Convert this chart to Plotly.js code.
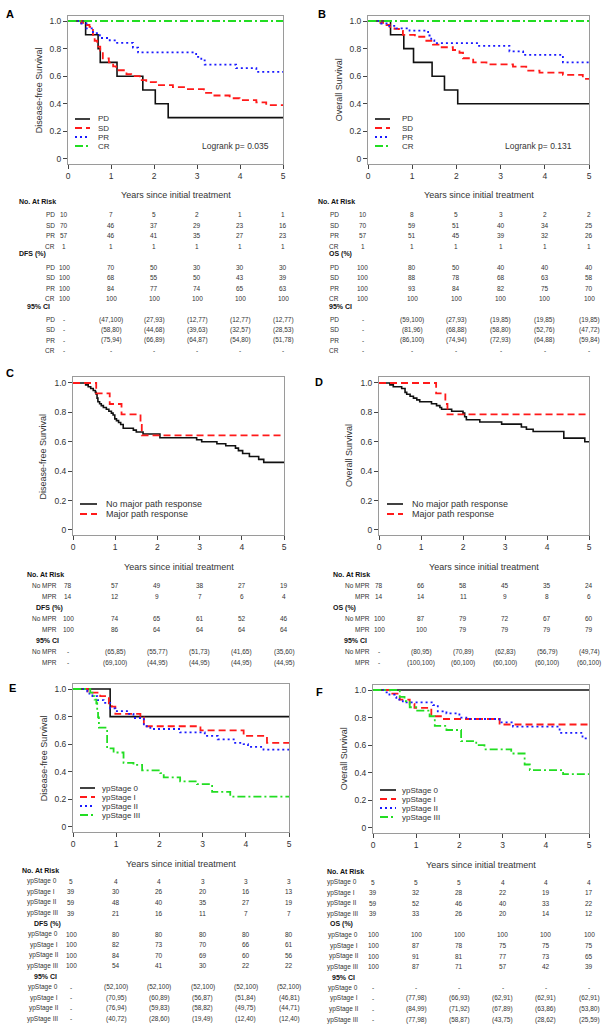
<!DOCTYPE html>
<html><head><meta charset="utf-8">
<script src="https://cdn.plot.ly/plotly-3.0.1.min.js"></script>
<style>html,body{margin:0;padding:0;background:#fff}#chart{width:605px;height:1035px}</style>
</head><body><div id="chart"></div>
<script>
// ---------------- DATA ----------------
const years = [0, 1, 2, 3, 4, 5];
const yTickVals = [0, 0.2, 0.4, 0.6, 0.8, 1.0];
const yTickText = ['0', '0.2', '0.4', '0.6', '0.8', '1.0'];

// Panel A: Disease-free survival by radiologic response
const A_PD_t = [0, 0.41, 0.70, 0.75, 1.14, 1.74, 2.03, 2.33, 5];
const A_PD_s = [1, 0.9, 0.8, 0.7, 0.6, 0.5, 0.4, 0.3, 0.3];
const A_SD_t = [0, 0.30, 0.40, 0.50, 0.58, 0.62, 0.68, 0.75, 0.81, 0.95, 1.05, 1.12, 1.36, 1.47, 1.67, 1.82, 2.05, 2.44, 2.75, 3.16, 3.37, 3.76, 3.99, 4.38, 4.61, 5];
const A_SD_s = [1, 0.986, 0.971, 0.957, 0.900, 0.857, 0.814, 0.786, 0.729, 0.700, 0.671, 0.643, 0.614, 0.600, 0.571, 0.557, 0.536, 0.521, 0.507, 0.479, 0.460, 0.440, 0.427, 0.410, 0.390, 0.390];
const A_PR_t = [0, 0.31, 0.43, 0.58, 0.74, 0.97, 1.12, 1.51, 1.63, 2.98, 3.10, 3.18, 3.91, 4.38, 5];
const A_PR_s = [1, 0.982, 0.947, 0.912, 0.877, 0.860, 0.842, 0.807, 0.772, 0.740, 0.715, 0.684, 0.658, 0.632, 0.632];
const A_CR_t = [0, 5];
const A_CR_s = [1, 1];

// Panel B: Overall survival by radiologic response
const B_PD_t = [0, 0.51, 0.81, 1.03, 1.45, 1.73, 2.03, 5];
const B_PD_s = [1, 0.9, 0.8, 0.7, 0.6, 0.5, 0.4, 0.4];
const B_SD_t = [0, 0.28, 0.42, 0.49, 0.60, 0.70, 0.79, 1.06, 1.32, 1.47, 1.62, 1.92, 2.07, 2.15, 2.38, 2.68, 3.28, 3.58, 3.88, 4.41, 4.86, 5];
const B_SD_s = [1, 0.986, 0.971, 0.957, 0.943, 0.929, 0.900, 0.886, 0.857, 0.829, 0.810, 0.790, 0.770, 0.730, 0.700, 0.685, 0.670, 0.640, 0.626, 0.610, 0.580, 0.580];
const B_PR_t = [0, 0.30, 0.45, 0.64, 0.94, 1.36, 1.43, 1.50, 2.49, 3.20, 3.51, 4.41, 5];
const B_PR_s = [1, 0.982, 0.965, 0.947, 0.930, 0.895, 0.860, 0.840, 0.820, 0.780, 0.755, 0.700, 0.700];
const B_CR_t = [0, 5];
const B_CR_s = [1, 1];

// Panel C: DFS by major pathologic response
const C_NO_t = [0, 0.30, 0.36, 0.42, 0.48, 0.53, 0.55, 0.57, 0.59, 0.63, 0.67, 0.72, 0.79, 0.85, 0.91, 0.95, 0.99, 1.03, 1.08, 1.13, 1.19, 1.43, 1.50, 1.66, 2.06, 2.93, 3.05, 3.41, 3.62, 3.85, 3.92, 4.02, 4.18, 4.40, 4.52, 5];
const C_NO_s = [1, 0.987, 0.974, 0.962, 0.949, 0.936, 0.923, 0.897, 0.872, 0.859, 0.846, 0.833, 0.821, 0.808, 0.795, 0.782, 0.756, 0.744, 0.731, 0.718, 0.692, 0.679, 0.666, 0.653, 0.627, 0.614, 0.600, 0.587, 0.573, 0.557, 0.540, 0.520, 0.500, 0.480, 0.460, 0.460];
const C_MPR_t = [0, 0.55, 0.87, 1.15, 1.60, 1.63, 5];
const C_MPR_s = [1, 0.929, 0.857, 0.786, 0.714, 0.643, 0.643];

// Panel D: OS by major pathologic response
const D_NO_t = [0, 0.26, 0.34, 0.54, 0.62, 0.66, 0.74, 0.82, 0.90, 0.97, 1.25, 1.37, 1.45, 1.49, 1.73, 2.00, 2.04, 2.08, 2.40, 2.92, 3.39, 3.51, 3.67, 4.40, 4.90, 5];
const D_NO_s = [1, 0.987, 0.974, 0.962, 0.936, 0.923, 0.910, 0.897, 0.885, 0.872, 0.859, 0.846, 0.833, 0.821, 0.808, 0.795, 0.770, 0.750, 0.735, 0.720, 0.700, 0.685, 0.670, 0.625, 0.600, 0.600];
const D_MPR_t = [0, 1.36, 1.58, 1.63, 5];
const D_MPR_s = [1, 0.929, 0.857, 0.786, 0.786];

// Panel E: DFS by ypStage
const E_S0_t = [0, 0.86, 5];
const E_S0_s = [1, 0.8, 0.8];
const E_S1_t = [0, 0.34, 0.63, 0.83, 0.90, 0.98, 1.56, 1.64, 2.95, 3.95, 4.49, 5];
const E_S1_s = [1, 0.974, 0.949, 0.897, 0.872, 0.820, 0.794, 0.730, 0.700, 0.660, 0.610, 0.610];
const E_S2_t = [0, 0.33, 0.38, 0.45, 0.56, 0.71, 0.86, 0.98, 1.25, 1.40, 1.64, 1.79, 2.48, 3.05, 3.35, 3.72, 3.95, 4.05, 4.41, 5];
const E_S2_s = [1, 0.983, 0.966, 0.949, 0.920, 0.900, 0.860, 0.840, 0.820, 0.790, 0.730, 0.710, 0.685, 0.660, 0.635, 0.610, 0.600, 0.580, 0.560, 0.560];
const E_S3_t = [0, 0.40, 0.45, 0.50, 0.54, 0.56, 0.58, 0.60, 0.79, 0.94, 1.17, 1.40, 1.60, 2.02, 2.10, 2.48, 2.87, 3.22, 3.64, 5];
const E_S3_s = [1, 0.974, 0.949, 0.923, 0.897, 0.846, 0.795, 0.720, 0.570, 0.540, 0.465, 0.450, 0.410, 0.390, 0.360, 0.330, 0.310, 0.255, 0.220, 0.220];

// Panel F: OS by ypStage
const F_S0_t = [0, 5];
const F_S0_s = [1, 1];
const F_S1_t = [0, 0.39, 0.62, 0.85, 0.96, 1.35, 1.43, 1.62, 2.93, 5];
const F_S1_s = [1, 0.974, 0.930, 0.900, 0.870, 0.820, 0.810, 0.790, 0.750, 0.750];
const F_S2_t = [0, 0.27, 0.38, 0.50, 0.54, 0.69, 1.39, 1.50, 1.70, 2.00, 2.16, 2.93, 3.24, 4.32, 4.85, 5];
const F_S2_s = [1, 0.983, 0.966, 0.949, 0.930, 0.910, 0.890, 0.845, 0.830, 0.800, 0.790, 0.765, 0.735, 0.690, 0.650, 0.650];
const F_S3_t = [0, 0.62, 0.73, 0.85, 1.00, 1.31, 1.43, 1.70, 2.04, 2.39, 2.58, 3.20, 3.51, 3.63, 4.40, 5];
const F_S3_s = [1, 0.950, 0.920, 0.875, 0.850, 0.810, 0.740, 0.710, 0.630, 0.600, 0.570, 0.540, 0.460, 0.420, 0.390, 0.390];

// Table data
const A_groups = ['PD', 'SD', 'PR', 'CR'];
const A_atRisk = [[10,7,5,2,1,1],[70,46,37,29,23,16],[57,46,41,35,27,23],[1,1,1,1,1,1]];
const A_pct = [[100,70,50,30,30,30],[100,68,55,50,43,39],[100,84,77,74,65,63],[100,100,100,100,100,100]];
const A_ci = [['-','(47,100)','(27,93)','(12,77)','(12,77)','(12,77)'],['-','(58,80)','(44,68)','(39,63)','(32,57)','(28,53)'],['-','(75,94)','(66,89)','(64,87)','(54,80)','(51,78)'],['-','-','-','-','-','-']];

const B_groups = ['PD', 'SD', 'PR', 'CR'];
const B_atRisk = [[10,8,5,3,2,2],[70,59,51,40,34,25],[57,51,45,39,32,26],[1,1,1,1,1,1]];
const B_pct = [[100,80,50,40,40,40],[100,88,78,68,63,58],[100,93,84,82,75,70],[100,100,100,100,100,100]];
const B_ci = [['-','(59,100)','(27,93)','(19,85)','(19,85)','(19,85)'],['-','(81,96)','(68,88)','(58,80)','(52,76)','(47,72)'],['-','(86,100)','(74,94)','(72,93)','(64,88)','(59,84)'],['-','-','-','-','-','-']];

const C_groups = ['No MPR', 'MPR'];
const C_atRisk = [[78,57,49,38,27,19],[14,12,9,7,6,4]];
const C_pct = [[100,74,65,61,52,46],[100,86,64,64,64,64]];
const C_ci = [['-','(65,85)','(55,77)','(51,73)','(41,65)','(35,60)'],['-','(69,100)','(44,95)','(44,95)','(44,95)','(44,95)']];

const D_groups = ['No MPR', 'MPR'];
const D_atRisk = [[78,66,58,45,35,24],[14,14,11,9,8,6]];
const D_pct = [[100,87,79,72,67,60],[100,100,79,79,79,79]];
const D_ci = [['-','(80,95)','(70,89)','(62,83)','(56,79)','(49,74)'],['-','(100,100)','(60,100)','(60,100)','(60,100)','(60,100)']];

const E_groups = ['ypStage 0', 'ypStage I', 'ypStage II', 'ypStage III'];
const E_atRisk = [[5,4,4,3,3,3],[39,30,26,20,16,13],[59,48,40,35,27,19],[39,21,16,11,7,7]];
const E_pct = [[100,80,80,80,80,80],[100,82,73,70,66,61],[100,84,70,69,60,56],[100,54,41,30,22,22]];
const E_ci = [['-','(52,100)','(52,100)','(52,100)','(52,100)','(52,100)'],['-','(70,95)','(60,89)','(56,87)','(51,84)','(46,81)'],['-','(76,94)','(59,83)','(58,82)','(49,75)','(44,71)'],['-','(40,72)','(28,60)','(19,49)','(12,40)','(12,40)']];

const F_groups = ['ypStage 0', 'ypStage I', 'ypStage II', 'ypStage III'];
const F_atRisk = [[5,5,5,4,4,4],[39,32,28,22,19,17],[59,52,46,40,33,22],[39,33,26,20,14,12]];
const F_pct = [[100,100,100,100,100,100],[100,87,78,75,75,75],[100,91,81,77,73,65],[100,87,71,57,42,39]];
const F_ci = [['-','-','-','-','-','-'],['-','(77,98)','(66,93)','(62,91)','(62,91)','(62,91)'],['-','(84,99)','(71,92)','(67,89)','(63,86)','(53,80)'],['-','(77,98)','(58,87)','(43,75)','(28,62)','(25,59)']];

// ---------------- STYLE / LAYOUT ----------------
const W = 605, H = 1035;
const FONT = 'Liberation Sans, Arial, Helvetica, sans-serif';
const BLACK = '#111111', RED = '#ff1a1a', BLUE = '#1a1aff', GREEN = '#22dd22';
const ST = {
  solid:   {color: BLACK, width: 1.6},
  red:     {color: RED, width: 1.8, dash: '7px,4px'},
  blue:    {color: BLUE, width: 1.8, dash: '2px,3px'},
  green:   {color: GREEN, width: 1.8, dash: '8px,3px,2px,3px'}
};

const panels = [
  {letter:'A', lx:4, ly:14, L:68, R:283, T:15.5, B:163.8, ytitle:'Disease-free Survival', ytx:38.5, xty:195,
   series:[[A_PD_t,A_PD_s,'solid'],[A_SD_t,A_SD_s,'red'],[A_PR_t,A_PR_s,'blue'],[A_CR_t,A_CR_s,'green']],
   leg:{names:A_groups, styles:['solid','red','blue','green'], x0:75, x1:90, xt:96, ys:[119,128,137,146], fs:8},
   logrank:{text:'Logrank p= 0.035', x:235, y:146},
   tab:{groups:A_groups, risk:A_atRisk, pct:A_pct, ci:A_ci, pctTitle:'DFS (%)', hX:17, hY:202, secX:[17,17,25], labR:57, riskLeft:null, y0:214.7, step:10.48, hOff:-2.5, c0:-4}},
  {letter:'B', lx:316, ly:14, L:368, R:589, T:15.5, B:163.8, ytitle:'Overall Survival', ytx:338.5, xty:195,
   series:[[B_PD_t,B_PD_s,'solid'],[B_SD_t,B_SD_s,'red'],[B_PR_t,B_PR_s,'blue'],[B_CR_t,B_CR_s,'green']],
   leg:{names:B_groups, styles:['solid','red','blue','green'], x0:375, x1:390, xt:400, ys:[119,128,137,146], fs:8},
   logrank:{text:'Logrank p= 0.131', x:538, y:146},
   tab:{groups:B_groups, risk:B_atRisk, pct:B_pct, ci:B_ci, pctTitle:'OS (%)', hX:316, hY:202, secX:[316,327,327], labR:341, riskLeft:null, y0:214.7, step:10.48, hOff:-2.5, c0:-5}},
  {letter:'C', lx:4, ly:373, L:73, R:284, T:377.1, B:535.1, ytitle:'Disease-free Survival', ytx:43.5, xty:567,
   series:[[C_NO_t,C_NO_s,'solid'],[C_MPR_t,C_MPR_s,'red']],
   leg:{names:['No major path response','Major path response'], styles:['solid','red'], x0:80, x1:97, xt:104, ys:[504,514], fs:9},
   logrank:null,
   tab:{groups:C_groups, risk:C_atRisk, pct:C_pct, ci:C_ci, pctTitle:'DFS (%)', hX:25, hY:574, secX:[25,34,34], labR:58.5, riskLeft:null, y0:585.6, step:11.0, hOff:0, c0:-5}},
  {letter:'D', lx:313, ly:382, L:379, R:589, T:377.1, B:535.1, ytitle:'Overall Survival', ytx:349, xty:567,
   series:[[D_NO_t,D_NO_s,'solid'],[D_MPR_t,D_MPR_s,'red']],
   leg:{names:['No major path response','Major path response'], styles:['solid','red'], x0:387, x1:403, xt:410, ys:[504,514], fs:9},
   logrank:null,
   tab:{groups:D_groups, risk:D_atRisk, pct:D_pct, ci:D_ci, pctTitle:'OS (%)', hX:331, hY:574, secX:[331,331,342], labR:372.5, riskLeft:null, y0:585.6, step:11.0, hOff:0, c0:0}},
  {letter:'E', lx:7, ly:688, L:73, R:289, T:683.5, B:831.8, ytitle:'Disease-free Survival', ytx:43.5, xty:863.5,
   series:[[E_S0_t,E_S0_s,'solid'],[E_S1_t,E_S1_s,'red'],[E_S2_t,E_S2_s,'blue'],[E_S3_t,E_S3_s,'green']],
   leg:{names:E_groups, styles:['solid','red','blue','green'], x0:80, x1:95, xt:100, ys:[788,797,806,815], fs:8},
   logrank:null,
   tab:{groups:E_groups, risk:E_atRisk, pct:E_pct, ci:E_ci, pctTitle:'DFS (%)', hX:20, hY:870.7, secX:[20,32,32], labR:60, riskLeft:25, y0:881.3, step:10.57, hOff:0, c0:-2}},
  {letter:'F', lx:314, ly:692, L:373, R:589, T:684.5, B:832.8, ytitle:'Overall Survival', ytx:343.5, xty:864.5,
   series:[[F_S0_t,F_S0_s,'solid'],[F_S1_t,F_S1_s,'red'],[F_S2_t,F_S2_s,'blue'],[F_S3_t,F_S3_s,'green']],
   leg:{names:F_groups, styles:['solid','red','blue','green'], x0:380, x1:396, xt:400, ys:[790,799,808,817], fs:8},
   logrank:null,
   tab:{groups:F_groups, risk:F_atRisk, pct:F_pct, ci:F_ci, pctTitle:'OS (%)', hX:325, hY:871.3, secX:[325,328,330], labR:360, riskLeft:325, y0:882, step:10.59, hOff:0, c0:0}}
];

const layout = {
  width: W, height: H, margin: {l:0, r:0, t:0, b:0},
  showlegend: false, paper_bgcolor: '#ffffff', plot_bgcolor: '#ffffff',
  font: {family: FONT, size: 9, color: '#333'},
  annotations: [], shapes: []
};
const traces = [];
const px = v => v / W;
const py = v => 1 - v / H;

function txt(text, x, y, xanchor, opts) {
  opts = opts || {};
  return Object.assign({xref:'paper', yref:'paper', x:px(x), y:py(y), text:text, xanchor:xanchor, yanchor:'middle',
    showarrow:false, font:{family:FONT, size:opts.size||6.5, color:opts.color||'#333'}}, opts.extra||{});
}

panels.forEach((p, i) => {
  const sfx = i ? String(i + 1) : '';
  const xr = 'x' + sfx, yr = 'y' + sfx;
  layout['xaxis' + sfx] = {
    domain:[px(p.L), px(p.R)], range:[0, 5], tickvals: years, ticks:'outside', ticklen:4, tickcolor:'#444', tickwidth:1,
    showline:true, linecolor:'#9a9a9a', linewidth:1, mirror:true, showgrid:false, zeroline:false,
    tickfont:{family:FONT, size:8.5, color:'#333'}, anchor: yr, fixedrange:true
  };
  layout['yaxis' + sfx] = {
    domain:[py(p.B), py(p.T)], range:[-0.035, 1.04], tickvals: yTickVals, ticktext: yTickText, ticks:'outside', ticklen:4,
    tickcolor:'#444', tickwidth:1, showline:true, linecolor:'#9a9a9a', linewidth:1, mirror:true, showgrid:false, zeroline:false,
    tickfont:{family:FONT, size:8.5, color:'#333'}, anchor: xr, fixedrange:true
  };
  p.series.forEach(s => {
    traces.push({type:'scatter', mode:'lines', x:s[0], y:s[1], xaxis:xr, yaxis:yr,
      line:Object.assign({shape:'hv'}, ST[s[2]]), hoverinfo:'skip'});
  });
  // panel letter
  layout.annotations.push(txt('<b>' + p.letter + '</b>', p.lx, p.ly, 'left', {size:11, color:'#000'}));
  // axis titles
  layout.annotations.push(txt(p.ytitle, p.ytx, (p.T + p.B) / 2, 'center', {size:9, color:'#333', extra:{textangle:-90}}));
  layout.annotations.push(txt('Years since initial treatment', (p.L + p.R) / 2, p.xty, 'center', {size:9, color:'#333'}));
  // legend
  p.leg.names.forEach((nm, k) => {
    const y = p.leg.ys[k];
    const st = ST[p.leg.styles[k]];
    layout.shapes.push({type:'line', xref:'paper', yref:'paper', x0:px(p.leg.x0), x1:px(p.leg.x1), y0:py(y), y1:py(y),
      line:{color:st.color, width:st.width, dash:st.dash || 'solid'}});
    layout.annotations.push(txt(nm, p.leg.xt, y, 'left', {size:p.leg.fs, color:'#333'}));
  });
  if (p.logrank) layout.annotations.push(txt(p.logrank.text, p.logrank.x, p.logrank.y, 'center', {size:8.5, color:'#333'}));

  // table
  const t = p.tab;
  layout.annotations.push(txt('<b>No. At Risk</b>', t.hX, t.hY, 'left', {size:7, color:'#111'}));
  const secs = [t.risk, t.pct, t.ci];
  const titles = [null, t.pctTitle, '95% CI'];
  let k = 0;
  secs.forEach((sec, si) => {
    if (si > 0) {
      layout.annotations.push(txt('<b>' + titles[si] + '</b>', t.secX[si], t.y0 + k * t.step + t.hOff, 'left', {size:7, color:'#111'}));
      k++;
    }
    sec.forEach((row, gi) => {
      const y = t.y0 + k * t.step;
      if (si === 0 && t.riskLeft !== null) layout.annotations.push(txt(t.groups[gi], t.riskLeft, y, 'left'));
      else layout.annotations.push(txt(t.groups[gi], t.labR, y, 'right'));
      row.forEach((v, c) => {
        layout.annotations.push({xref:xr, yref:'paper', x:years[c], y:py(y), text:String(v), xanchor:'center', yanchor:'middle',
          xshift: c === 0 ? t.c0 : 0, showarrow:false, font:{family:FONT, size:6.5, color:'#333'}});
      });
      k++;
    });
  });
});

Plotly.newPlot('chart', traces, layout, {displayModeBar:false, staticPlot:true});
</script>
</body></html>
